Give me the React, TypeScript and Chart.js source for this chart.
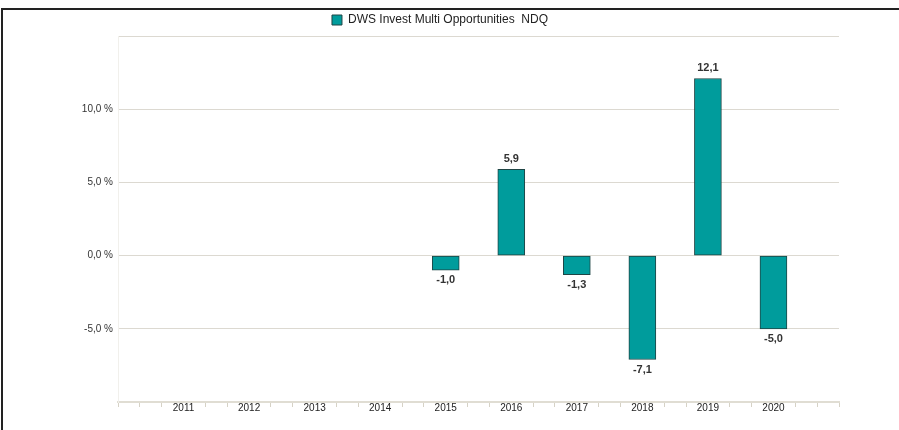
import React, { useEffect, useRef } from 'react';
import { Chart, registerables } from 'chart.js';

Chart.register(...registerables);

const YEARS = [2011, 2012, 2013, 2014, 2015, 2016, 2017, 2018, 2019, 2020];
const VALUES: (number | null)[] = [null, null, null, null, -1.0, 5.9, -1.3, -7.1, 12.1, -5.0];
const SERIES_LABEL = 'DWS Invest Multi Opportunities  NDQ';
const Y_MIN = -10;
const Y_MAX = 15;
const Y_STEP = 5;
const X_MIN = 2010;
const X_MAX = 2021;
const X_SUBDIV = 3;

const FONT = '"Liberation Sans", Arial, Helvetica, sans-serif';

const fmt = (v: number) => v.toFixed(1).replace('.', ',');

const isYearLabel = (v: number) => {
  const r = Math.round(v);
  return Math.abs(v - r) < 1e-6 && YEARS.includes(r);
};

const valueLabels = {
  id: 'valueLabels',
  afterDatasetsDraw(chart: any) {
    const meta = chart.getDatasetMeta(0);
    const ctx = chart.ctx;
    ctx.save();
    ctx.font = `bold 11px ${FONT}`;
    ctx.fillStyle = '#333333';
    ctx.textAlign = 'center';
    ctx.textBaseline = 'middle';
    meta.data.forEach((el: any, i: number) => {
      const v = VALUES[i];
      if (v == null) return;
      const { x, y } = el.getProps(['x', 'y'], true);
      ctx.fillText(fmt(v), x, v >= 0 ? y - 10 : y + 10);
    });
    ctx.restore();
  },
};

export default function App() {
  const ref = useRef<HTMLCanvasElement | null>(null);

  useEffect(() => {
    if (!ref.current) return;
    const chart = new Chart(ref.current, {
      type: 'bar',
      data: {
        datasets: [
          {
            label: SERIES_LABEL,
            data: YEARS.map((yr, i) => ({ x: yr, y: VALUES[i] })) as any,
            backgroundColor: '#009c9c',
            borderColor: '#1f4545',
            borderWidth: 1,
            borderSkipped: false,
            barThickness: 27,
          },
        ],
      },
      options: {
        animation: false,
        responsive: false,
        maintainAspectRatio: false,
        layout: { padding: { left: 0, right: 19, top: 4, bottom: 0 } },
        plugins: {
          legend: {
            display: true,
            position: 'top',
            labels: {
              font: { family: FONT, size: 12 },
              color: '#222222',
              boxWidth: 10,
              boxHeight: 10,
              padding: 10,
            },
          },
          tooltip: { enabled: false },
        },
        scales: {
          x: {
            type: 'linear',
            min: X_MIN,
            max: X_MAX,
            offset: false,
            afterBuildTicks: (scale: any) => {
              const ticks: { value: number }[] = [];
              for (let k = 0; k <= (X_MAX - X_MIN) * X_SUBDIV; k++) {
                ticks.push({ value: X_MIN + k / X_SUBDIV });
              }
              scale.ticks = ticks;
            },
            afterFit: (scale: any) => {
              scale.height = 28;
            },
            grid: {
              offset: false,
              drawOnChartArea: false,
              drawTicks: true,
              tickLength: 5,
              tickColor: (ctx: any) =>
                ctx.tick && isYearLabel(ctx.tick.value) ? 'rgba(0,0,0,0)' : '#d6d2c6',
              tickWidth: 1,
            },
            border: { display: true, color: '#e0ddd3', width: 2 },
            ticks: {
              autoSkip: false,
              maxRotation: 0,
              minRotation: 0,
              padding: -5,
              color: '#222222',
              font: { family: FONT, size: 10 },
              callback: (v: any) => (isYearLabel(Number(v)) ? String(Math.round(Number(v))) : ''),
            },
          },
          y: {
            type: 'linear',
            min: Y_MIN,
            max: Y_MAX,
            afterFit: (scale: any) => {
              scale.width = 118;
            },
            grid: {
              color: '#dcd9d1',
              lineWidth: 1,
              drawTicks: false,
            },
            border: { display: true, color: '#f1f0ec', width: 1 },
            ticks: {
              stepSize: Y_STEP,
              padding: 5,
              color: '#333333',
              font: { family: FONT, size: 10 },
              callback: (v: any) => {
                const n = Number(v);
                return n > Y_MIN && n < Y_MAX ? `${fmt(n)} %` : '';
              },
            },
          },
          yRight: {
            type: 'linear',
            position: 'right',
            display: true,
            min: Y_MIN,
            max: Y_MAX,
            afterFit: (scale: any) => {
              scale.width = 41;
            },
            grid: { display: false, drawOnChartArea: false },
            border: { display: false },
            ticks: { display: false },
          },
        },
      },
      plugins: [valueLabels],
    });
    return () => chart.destroy();
  }, []);

  return (
    <div style={{ position: 'fixed', left: 0, top: 0, width: 899, height: 430, background: '#ffffff' }}>
      <div
        style={{
          position: 'absolute',
          left: 1,
          top: 8,
          right: 0,
          bottom: 0,
          borderTop: '2px solid #222222',
          borderLeft: '2px solid #222222',
        }}
      />
      <canvas ref={ref} width={899} height={430} style={{ position: 'absolute', left: 0, top: 0, width: 899, height: 430 }} />
    </div>
  );
}
